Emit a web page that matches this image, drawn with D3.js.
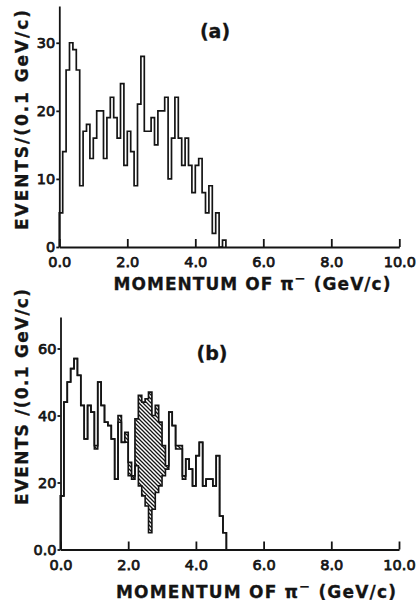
<!DOCTYPE html>
<html lang="en">
  <head>
    <meta charset="utf-8" />
    <title>pi- momentum spectra</title>
    <script type="text/javascript" src="https://d3js.org/d3.v7.min.js"></script>
    <style>
      body { margin: 0; background: #fff; }
      svg { display: block; }
    </style>
  </head>
  <body>
    <div id="graph"></div>

    <script type="text/javascript">
      /***************
       * data
       ***************/

      // events per 0.1 GeV/c bin, first bin starts at 0.0
      const binWidth = 0.1;

      const countsA = [5, 14, 26, 30, 29, 26, 9, 17, 18, 13,
                       16, 20, 20, 13, 19, 22, 19, 16, 24, 12,
                       17, 14, 9, 21, 28, 17, 17, 19, 15, 20,
                       20, 22, 10, 16, 22, 16, 12, 16, 12, 8,
                       12, 13, 8, 5, 9, 2, 5, 0, 1];

      // (b) full histogram (outline)
      const countsB = [16, 44, 50, 54, 57, 52, 43, 33, 43, 41,
                       31, 50, 43, 38, 37, 33, 21, 40, 32, 35,
                       26, 22, 39, 46, 44, 45, 47, 40, 43, 38,
                       31, 25, 41, 37, 31, 31, 22, 27, 24, 19,
                       28, 32, 19, 21, 21, 19, 28, 10, 5];

      // (b) lower histogram, the hatched band sits between the two
      const countsBLower = [16, 44, 50, 54, 57, 52, 43, 33, 43, 41,
                            30, 50, 43, 38, 37, 33, 21, 38, 32, 32,
                            22, 21, 25, 19, 16, 13, 5, 12, 17, 19,
                            22, 24, 41, 37, 30, 30, 21, 27, 24, 19,
                            28, 32, 19, 21, 21, 19, 28, 10, 5];

      const xTicks = [0, 2, 4, 6, 8, 10];
      const yTicksA = [0, 10, 20, 30];
      const yTicksB = [0, 20, 40, 60];

      /***************************
       * create svg
       **************************/

      const width = 418;
      const height = 611;
      const ink = "#141414";
      const font = "'DejaVu Sans', sans-serif";

      const svg = d3
        .select("div#graph")
        .append("svg")
        .attr("width", width)
        .attr("height", height)
        .style("color", ink);

      // diagonal hatching "\\\\"
      svg
        .append("defs")
        .append("pattern")
        .attr("id", "hatch")
        .attr("patternUnits", "userSpaceOnUse")
        .attr("width", 4)
        .attr("height", 4)
        .append("path")
        .attr("d", "M0,0L4,4M-1,3L1,5M3,-1L5,1")
        .attr("stroke", ink)
        .attr("stroke-width", 1.3);

      // histogram as closed step outline: axis -> bins -> axis
      function stepPoints(counts) {
        const pts = [[0, 0]];
        counts.forEach((c, i) => pts.push([i * binWidth, c]));
        pts.push([counts.length * binWidth, 0]);
        return pts;
      }

      function drawPanel(o) {
        const x = d3.scaleLinear().domain([0, 10]).range([o.left, o.right]);
        const y = d3.scaleLinear().domain([0, o.yMax]).range([o.bottom, o.top]);
        const g = svg.append("g");

        const line = d3
          .line()
          .x((d) => x(d[0]))
          .y((d) => y(d[1]))
          .curve(d3.curveStepAfter);

        if (o.lower) {
          const band = o.counts.map((c, i) => ({ m: i * binWidth, hi: c, lo: o.lower[i] }));
          band.push({ m: o.counts.length * binWidth, hi: 0, lo: 0 });

          const area = d3
            .area()
            .x((d) => x(d.m))
            .y0((d) => y(d.lo))
            .y1((d) => y(d.hi))
            .curve(d3.curveStepAfter);

          g.append("path").datum(band).attr("fill", "url(#hatch)").attr("d", area);

          g.append("path")
            .datum(stepPoints(o.lower))
            .attr("fill", "none")
            .attr("stroke", ink)
            .attr("stroke-width", 1.6)
            .attr("d", line);
        }

        g.append("path")
          .datum(stepPoints(o.counts))
          .attr("fill", "none")
          .attr("stroke", ink)
          .attr("stroke-width", 1.7)
          .attr("stroke-linejoin", "miter")
          .attr("d", line);

        // axes
        const xAxis = g
          .append("g")
          .attr("transform", `translate(0,${o.bottom})`)
          .call(
            d3.axisBottom(x)
              .tickValues(xTicks)
              .tickFormat(d3.format(".1f"))
              .tickSizeInner(-8)
              .tickSizeOuter(0)
              .tickPadding(10)
          );

        const yAxis = g
          .append("g")
          .attr("transform", `translate(${o.left},0)`)
          .call(
            d3.axisLeft(y)
              .tickValues(o.yTicks)
              .tickFormat(o.yFormat)
              .tickSizeInner(3)
              .tickSizeOuter(0)
              .tickPadding(1)
          );

        [xAxis, yAxis].forEach((a) => {
          a.attr("font-family", font).attr("font-size", 14.5);
          a.selectAll("path, line").attr("stroke-width", 1.8);
          a.selectAll("text").attr("stroke", ink).attr("stroke-width", 0.75);
        });

        // axis titles
        const title = g
          .append("text")
          .attr("x", o.titleX)
          .attr("y", o.titleY)
          .attr("text-anchor", "middle")
          .attr("textLength", o.titleLen)
          .attr("lengthAdjust", "spacing");
        title.append("tspan").text("MOMENTUM OF π");
        title.append("tspan").attr("dy", -7).attr("font-size", 13).text("−");
        title.append("tspan").attr("dy", 7).text(" (GeV/c)");

        g.append("text")
          .attr("transform", `translate(${o.yLabelX},${o.yLabelY}) rotate(-90)`)
          .attr("text-anchor", "middle")
          .attr("textLength", o.yLabelLen)
          .attr("lengthAdjust", "spacing")
          .text(o.yLabel);

        g.append("text")
          .attr("class", "tag")
          .attr("x", o.tagX)
          .attr("y", o.tagY)
          .attr("text-anchor", "middle")
          .text(o.tag);

        g.selectAll(":scope > text")
          .attr("font-family", font)
          .attr("font-size", 17)
          .attr("font-weight", "bold")
          .attr("fill", ink)
          .attr("stroke", ink)
          .attr("stroke-width", 0.3);

        g.select("text.tag").attr("font-size", 19);
      }

      /**************
       * panels
       **************/

      drawPanel({
        counts: countsA,
        lower: null,
        yTicks: yTicksA,
        yFormat: (d) => d,
        yMax: 35.4,
        left: 59.3,
        right: 399.3,
        bottom: 247,
        top: 6,
        titleX: 252,
        titleY: 290,
        titleLen: 277,
        yLabel: "EVENTS/(0.1 GeV/c)",
        yLabelX: 28,
        yLabelY: 120,
        yLabelLen: 220,
        tag: "(a)",
        tagX: 215,
        tagY: 38,
      });

      drawPanel({
        counts: countsB,
        lower: countsBLower,
        yTicks: yTicksB,
        yFormat: (d) => (d === 0 ? "0.0" : d),
        yMax: 69.4,
        left: 60.5,
        right: 399,
        bottom: 549.5,
        top: 317,
        titleX: 256,
        titleY: 598,
        titleLen: 280,
        yLabel: "EVENTS /(0.1 GeV/c)",
        yLabelX: 28,
        yLabelY: 397,
        yLabelLen: 216,
        tag: "(b)",
        tagX: 212,
        tagY: 360,
      });
    </script>
  </body>
</html>
